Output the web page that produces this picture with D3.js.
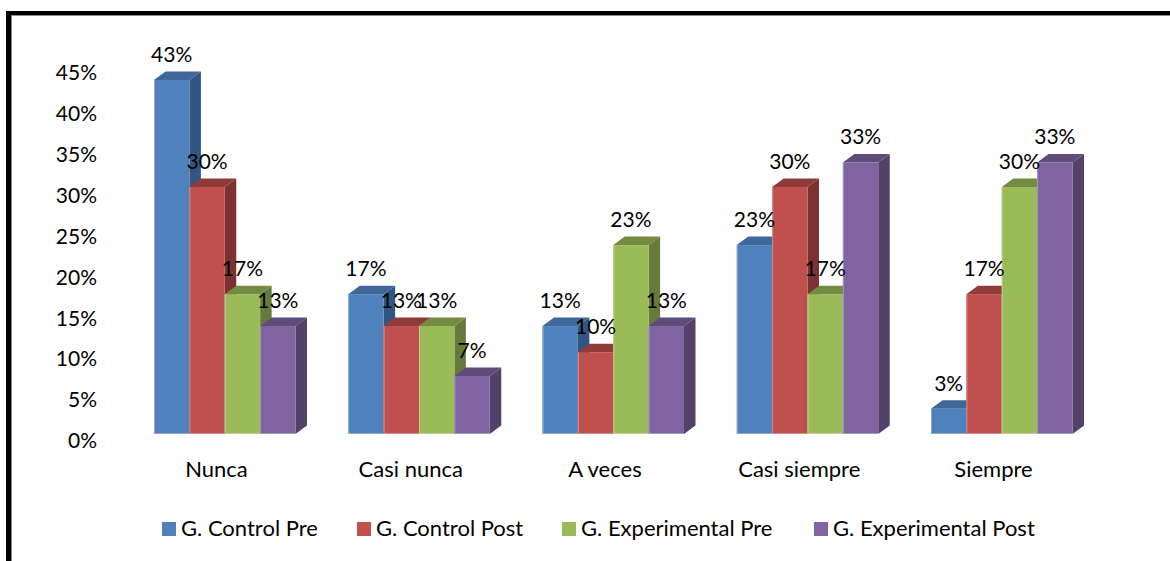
<!DOCTYPE html>
<html><head><meta charset="utf-8">
<script src="https://cdn.jsdelivr.net/npm/d3@7"></script>
<style>
html,body{margin:0;padding:0;background:#fff}
svg{display:block}
text{font-family:Lato,"Open Sans",sans-serif;fill:#000;}
.domain{display:none}
</style></head><body><svg id="c" width="1170" height="561"></svg>
<script>
const categories=["Nunca","Casi nunca","A veces","Casi siempre","Siempre"];
const seriesNames=["G. Control Pre","G. Control Post","G. Experimental Pre","G. Experimental Post"];
const controlPre=[43.3,17.1,13.2,23.1,3.1];
const controlPost=[30.2,13.2,10,30.2,17.1];
const experimentalPre=[17.1,13.2,23.1,17.1,30.2];
const experimentalPost=[13.2,7.1,13.2,33.2,33.2];
const yTicks=[0,5,10,15,20,25,30,35,40,45];
const frontColors=["#4F81BD","#C0504D","#9BBB59","#8064A2"];
const topColors=["#3F6797","#8F3B39","#748C42","#5F4B79"];
const sideColors=["#325582","#7C3230","#667B3B","#534169"];
const edgeColors=["#8FAAD0","#D08F8D","#BBD095","#A797BE"];
const allSeries=[controlPre,controlPost,experimentalPre,experimentalPost];

const svg=d3.select("#c");
const dx=11.5,dy=8.5,fs=22,labelFs=21;
const x0=d3.scaleBand().domain(categories).range([154,154+194.25*5]);
const clusterW=141.5;
const x1=d3.scaleBand().domain(d3.range(4)).range([0,clusterW]);
const y=d3.scaleLinear().domain([0,45]).range([434,66]);
const fam='Lato,"Open Sans",sans-serif';

// frame
svg.append("rect").attr("x",6).attr("y",11).attr("width",1164).attr("height",5).attr("fill","#000");
svg.append("rect").attr("x",6).attr("y",11).attr("width",5).attr("height",550).attr("fill","#000");
svg.append("rect").attr("x",11).attr("y",15).attr("width",1159).attr("height",1).attr("fill","#8a8a8a");
svg.append("rect").attr("x",11).attr("y",16).attr("width",1).attr("height",545).attr("fill","#8a8a8a");

// axes
const ya=d3.axisLeft(y).tickValues(yTicks).tickSize(0).tickPadding(0).tickFormat(d=>d+"%");
svg.append("g").attr("transform","translate(97,7)").call(ya)
  .call(g=>g.selectAll("text").attr("font-size",labelFs).style("font-family",fam));
const xa=d3.axisBottom(d3.scalePoint().domain(categories).range([216,216+194.25*4])).tickSize(0).tickPadding(0);
svg.append("g").attr("transform","translate(0,461)").call(xa)
  .call(g=>g.selectAll("text").attr("font-size",fs).style("font-family",fam));

// bars
categories.forEach((c,ci)=>{
  const g=svg.append("g").attr("transform",`translate(${x0(c)},0)`);
  const w=x1.bandwidth();
  d3.range(4).forEach(si=>{
    const v=allSeries[si][ci],X=x1(si),Y=y(v),B=y(0);
    g.append("path").attr("d",`M${X+w},${Y}L${X+w+dx},${Y-dy}V${B-dy}L${X+w},${B}Z`).attr("fill",sideColors[si]);
    g.append("path").attr("d",`M${X},${Y}L${X+dx},${Y-dy}H${X+w+dx}L${X+w},${Y}Z`).attr("fill",topColors[si]);
    g.append("rect").attr("x",X).attr("y",Y).attr("width",w).attr("height",B-Y).attr("fill",frontColors[si]);
    g.append("path").attr("d",`M${X+.5},${Y}V${B-.5}H${X+w}`).attr("fill","none").attr("stroke",edgeColors[si]).attr("stroke-width",1);
  });
  d3.range(4).forEach(si=>{
    const v=allSeries[si][ci];
    g.append("text").attr("x",x1(si)+w/2).attr("y",y(v)-18).attr("text-anchor","middle")
      .attr("font-size",labelFs).text(Math.round(v)+"%");
  });
});

// legend
const legendX=[162,357,562,814];
const lg=svg.append("g");
seriesNames.forEach((n,i)=>{
  lg.append("rect").attr("x",legendX[i]).attr("y",522).attr("width",14).attr("height",14).attr("fill",frontColors[i]);
  lg.append("text").attr("x",legendX[i]+19).attr("y",536).attr("font-size",fs).text(n);
});
</script></body></html>
